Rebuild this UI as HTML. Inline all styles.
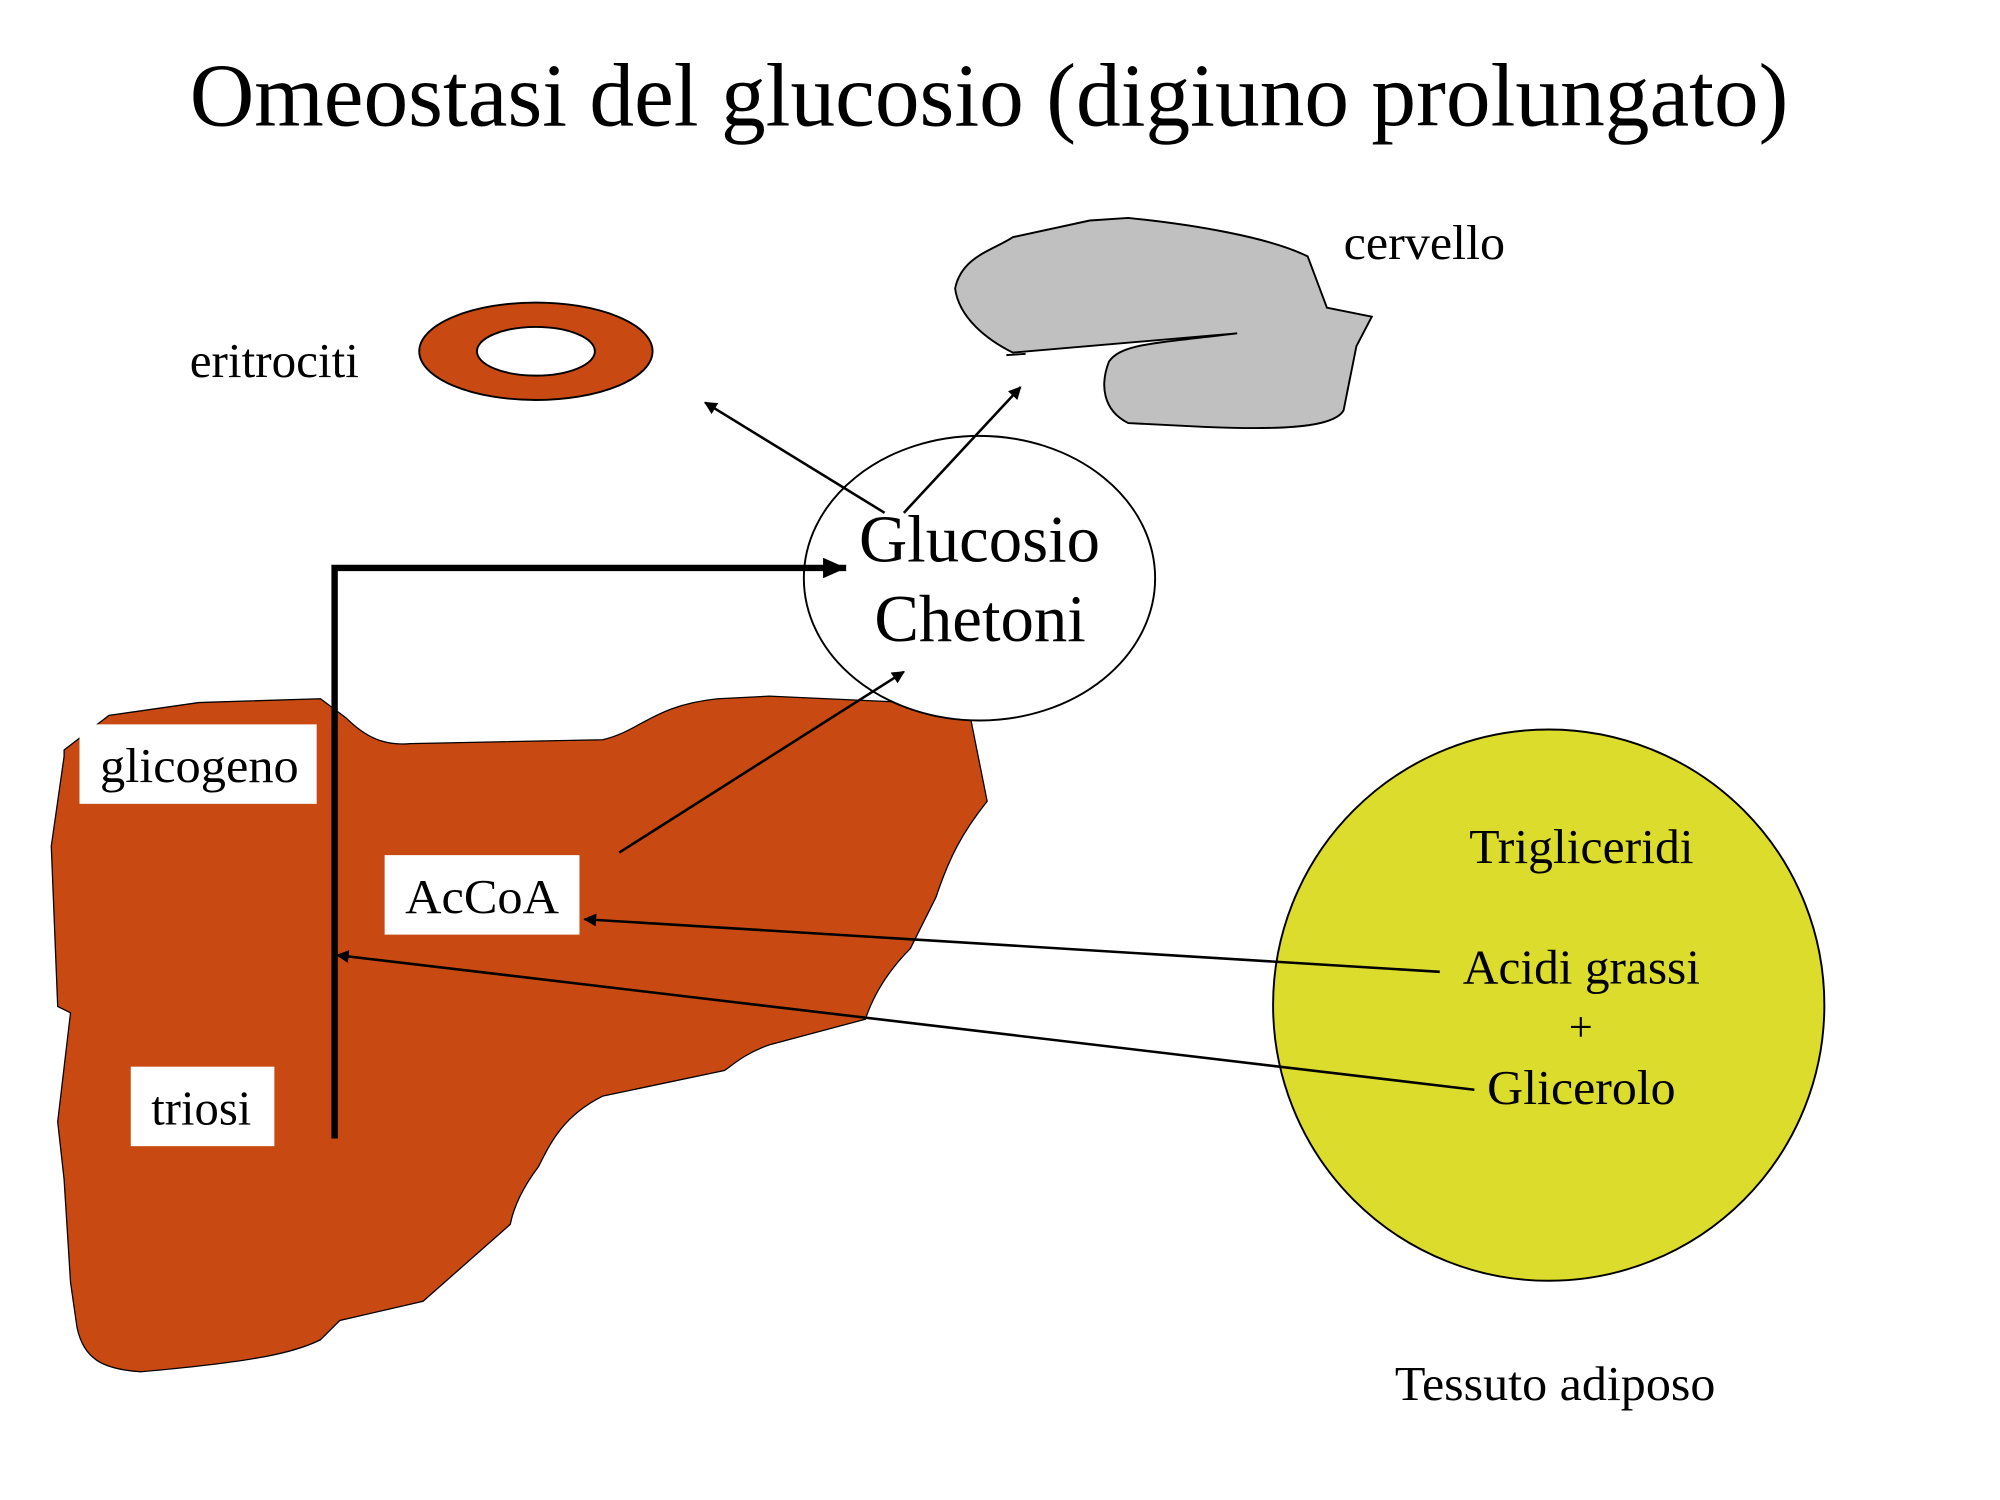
<!DOCTYPE html>
<html><head><meta charset="utf-8"><style>
html,body{margin:0;padding:0;background:#fff;}
svg{display:block;}
text{font-family:"Liberation Serif",serif;fill:#000;}
</style></head><body>
<svg width="2000" height="1500" viewBox="0 0 1560 1170" xmlns="http://www.w3.org/2000/svg">
<defs>
<marker id="a" markerWidth="10" markerHeight="10" refX="9" refY="5" orient="auto" markerUnits="userSpaceOnUse"><path d="M0,0 L10,5 L0,10 z" fill="#000"/></marker>
<marker id="b" markerWidth="20" markerHeight="20" refX="18" refY="8" orient="auto" markerUnits="userSpaceOnUse"><path d="M0,0 L18,8 L0,16 z" fill="#000"/></marker>
</defs>
<text x="148" y="98" font-size="70" textLength="1247" lengthAdjust="spacingAndGlyphs">Omeostasi del glucosio (digiuno prolungato)</text>
<text x="148" y="294" font-size="38" textLength="132" lengthAdjust="spacingAndGlyphs">eritrociti</text>
<ellipse cx="418" cy="274" rx="91" ry="38" fill="#c84a12" stroke="#000" stroke-width="1.5"/>
<ellipse cx="418" cy="274" rx="46" ry="19" fill="#fff" stroke="#000" stroke-width="1.5"/>
<text x="1048" y="202" font-size="38" textLength="126" lengthAdjust="spacingAndGlyphs">cervello</text>
<path d="M745,225 C750,200 775,195 790,185 L850,172 L880,170 C930,175 990,185 1020,200 L1035,240 L1070,247 L1058,270 L1048,320 C1040,335 990,335 940,333 L880,330 C860,320 858,300 865,282 C875,268 900,268 965,260 L790,275 C770,265 748,248 745,225 z" fill="#c0c0c0" stroke="#000" stroke-width="1.5"/>
<line x1="785" y1="277" x2="800" y2="276" stroke="#000" stroke-width="1.5"/>
<path d="M50,585 L85,558 L155,548 L250,545 L270,560 C285,575 300,582 320,580 L470,577 C500,570 510,550 560,545 L600,543 L755,550 L770,625 C750,650 740,670 730,700 L710,740 C690,760 680,780 675,795 L600,815 C580,822 570,832 565,835 L470,855 C440,870 430,890 420,910 C405,930 400,945 398,955 L330,1015 L265,1030 L250,1045 C230,1055 200,1062 110,1070 C80,1068 65,1060 60,1035 L55,1000 L50,920 L45,875 L55,790 L45,785 L40,660 L50,590 z" fill="#c84a12" stroke="#000" stroke-width="1"/>
<ellipse cx="764" cy="451" rx="137" ry="111" fill="#fff" stroke="#000" stroke-width="1.5"/>
<text x="670" y="438" font-size="52" textLength="188" lengthAdjust="spacingAndGlyphs">Glucosio</text>
<text x="682" y="500" font-size="52" textLength="165" lengthAdjust="spacingAndGlyphs">Chetoni</text>
<circle cx="1208" cy="784" r="215" fill="#dcdc2c" stroke="#000" stroke-width="1.5"/>
<text x="1146" y="673" font-size="38" textLength="175" lengthAdjust="spacingAndGlyphs">Trigliceridi</text>
<text x="1141" y="767" font-size="38" textLength="185" lengthAdjust="spacingAndGlyphs">Acidi grassi</text>
<text x="1233" y="812" font-size="33" text-anchor="middle">+</text>
<text x="1160" y="861" font-size="38" textLength="147" lengthAdjust="spacingAndGlyphs">Glicerolo</text>
<text x="1088" y="1092" font-size="38" textLength="250" lengthAdjust="spacingAndGlyphs">Tessuto adiposo</text>
<rect x="62" y="565" width="185" height="62" fill="#fff"/>
<text x="78" y="610" font-size="38" textLength="155" lengthAdjust="spacingAndGlyphs">glicogeno</text>
<rect x="300" y="667" width="152" height="62" fill="#fff"/>
<text x="316" y="712" font-size="38" textLength="120" lengthAdjust="spacingAndGlyphs">AcCoA</text>
<rect x="102" y="832" width="112" height="62" fill="#fff"/>
<text x="118" y="877" font-size="38" textLength="78" lengthAdjust="spacingAndGlyphs">triosi</text>
<path d="M261,888 L261,443 L660,443" fill="none" stroke="#000" stroke-width="5" marker-end="url(#b)"/>
<line x1="690" y1="400" x2="550" y2="314" stroke="#000" stroke-width="2" marker-end="url(#a)"/>
<line x1="705" y1="400" x2="796" y2="302" stroke="#000" stroke-width="2" marker-end="url(#a)"/>
<line x1="483" y1="665" x2="705" y2="524" stroke="#000" stroke-width="2" marker-end="url(#a)"/>
<line x1="1123" y1="758" x2="456" y2="717" stroke="#000" stroke-width="2" marker-end="url(#a)"/>
<line x1="1150" y1="850" x2="263" y2="745" stroke="#000" stroke-width="2" marker-end="url(#a)"/>
</svg>
</body></html>
